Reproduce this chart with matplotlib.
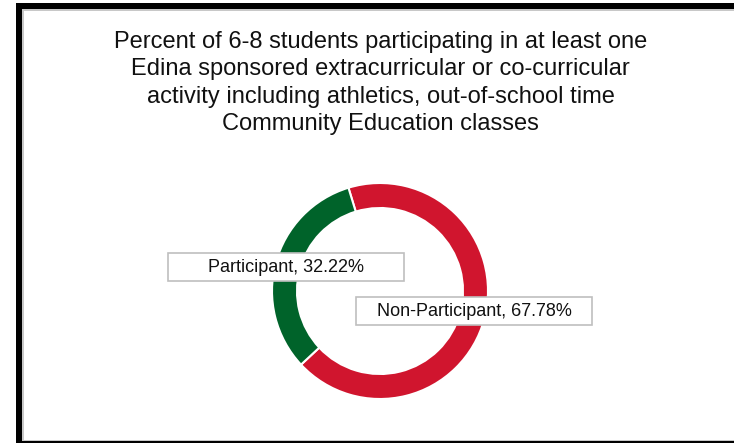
import matplotlib
matplotlib.use("Agg")
import matplotlib.pyplot as plt
from matplotlib.patches import Rectangle

plt.rcParams['font.family'] = ['Liberation Sans', 'DejaVu Sans']

# Data
categories = ["Non-Participant", "Participant"]
values = [67.78, 32.22]
colors = ["#D0152E", "#00632A"]
title = ("Percent of 6-8 students participating in at least one\n"
         "Edina sponsored extracurricular or co-curricular\n"
         "activity including athletics, out-of-school time\n"
         "Community Education classes")

W, H = 734, 443
fig = plt.figure(figsize=(W / 100, H / 100), dpi=100)
fig.patch.set_facecolor("white")

# Outer frame: thick black border on left/top/bottom with a thin grey inner line
def px_rect(x0, y0, x1, y1, color):
    fig.patches.append(Rectangle((x0 / W, 1 - y1 / H), (x1 - x0) / W, (y1 - y0) / H,
                                 transform=fig.transFigure, facecolor=color,
                                 edgecolor="none", zorder=0))

px_rect(16, 3, W + 5, 9, "black")
px_rect(22, 9, W + 5, 10.5, "#C8C8C8")
px_rect(16, 3, 22, H + 5, "black")
px_rect(22, 9, 23.5, 440, "#C8C8C8")
px_rect(22, 439.5, W + 5, 441, "#C8C8C8")
px_rect(16, 441, W + 5, H + 5, "black")

fig.text(380.5 / W, 1 - 83 / H, title, ha="center", va="center",
         fontsize=17, color="#111111", linespacing=1.32)

# Donut axes: 240 px square centred on the ring, 100 px per data unit
cx, cy, half = 380, 291, 120
ax = fig.add_axes([(cx - half) / W, (H - cy - half) / H, 2 * half / W, 2 * half / H])

wedges, _ = ax.pie(values, colors=colors, radius=1.08, startangle=107,
                   counterclock=False,
                   wedgeprops=dict(width=0.25, edgecolor="white", linewidth=1.5))
ax.set_xlim(-1.2, 1.2)
ax.set_ylim(-1.2, 1.2)
ax.set_aspect("equal")
ax.axis("off")

label_pos = [(0.94, -0.20), (-0.94, 0.24)]
bw, bh = 2.36, 0.28
for cat, val, (lx, ly) in zip(categories, values, label_pos):
    ax.add_patch(Rectangle((lx - bw / 2, ly - bh / 2), bw, bh, facecolor="white",
                           edgecolor="#BFBFBF", linewidth=1.2, zorder=5, clip_on=False))
    ax.text(lx, ly, f"{cat}, {val:.2f}%", ha="center", va="center",
            fontsize=13, color="#111111", zorder=6)

fig.savefig("out.png", dpi=100)
